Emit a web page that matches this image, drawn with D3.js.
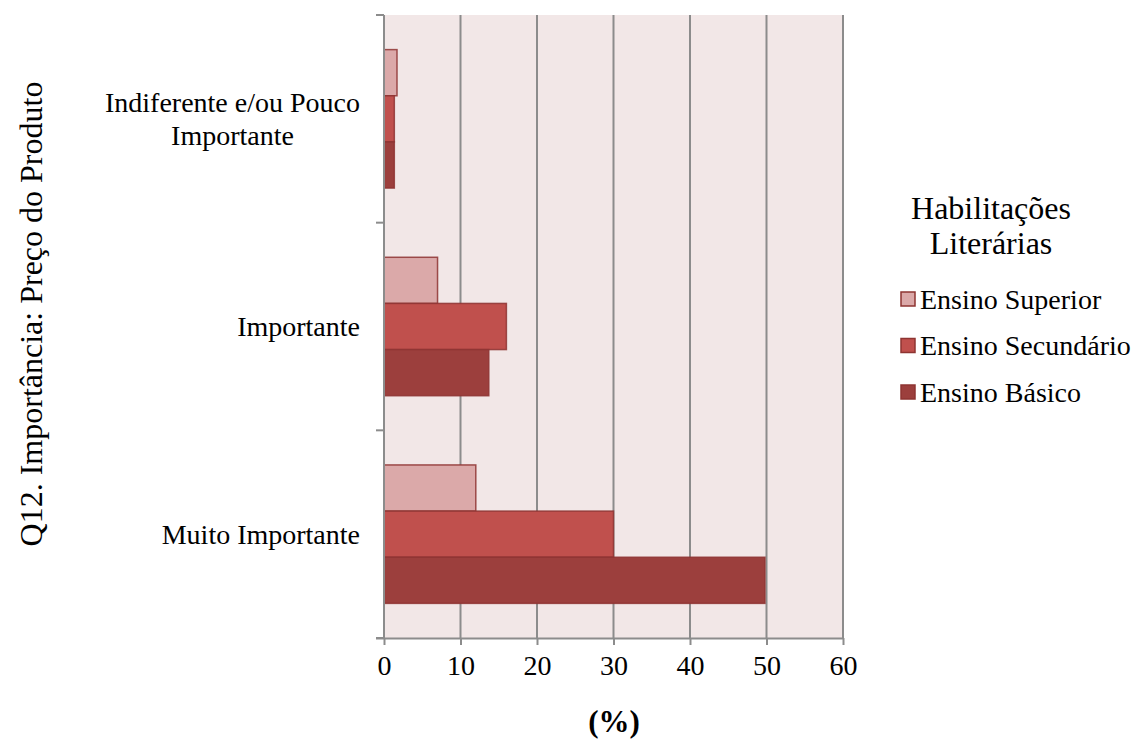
<!DOCTYPE html>
<html>
<head>
<meta charset="utf-8">
<script src="https://cdn.jsdelivr.net/npm/d3@7"></script>
<style>
  body { margin: 0; background: #ffffff; }
  svg { display: block; }
  text { font-family: "Liberation Serif", "Times New Roman", serif; fill: #000; }
</style>
</head>
<body>
<svg id="chart" width="1133" height="740"></svg>
<script>
// Categories listed top to bottom
const categories = ["Indiferente e/ou Pouco Importante", "Importante", "Muito Importante"];
const categoryLines = [["Indiferente e/ou Pouco", "Importante"], ["Importante"], ["Muito Importante"]];
// Series in drawing order within each group (top to bottom)
const seriesNames = ["Ensino Superior", "Ensino Secundário", "Ensino Básico"];
const seriesColors = ["#dba9a9", "#c0504d", "#9c3f3d"];
const superiorValues = [1.7, 7.0, 12.0];
const secundarioValues = [1.35, 16.0, 30.0];
const basicoValues = [1.35, 13.7, 49.8];
const xTicks = [0, 10, 20, 30, 40, 50, 60];

const seriesValues = [superiorValues, secundarioValues, basicoValues];

(function draw() {
  const svg = d3.select("#chart");
  const pLeft = 384, pRight = 843, pTop = 15, pBottom = 638;
  const labelSize = "28px", titleSize = "32px";

  const x = d3.scaleLinear().domain([0, 60]).range([pLeft, pRight]);
  const yGroup = d3.scaleBand().domain(categories).range([pTop, pBottom]);
  // gap width 150%: each band holds 3 bars plus 1.5 bars of gap
  const barH = yGroup.bandwidth() / 4.5;
  const ySeries = d3.scaleBand().domain(seriesNames).range([0, barH * 3]);

  // plot background
  svg.append("rect")
    .attr("x", pLeft).attr("y", pTop)
    .attr("width", pRight - pLeft).attr("height", pBottom - pTop)
    .attr("fill", "#f2e7e7");

  // vertical gridlines
  svg.append("g").selectAll("line")
    .data(xTicks.filter(d => d > 0))
    .join("line")
    .attr("x1", d => x(d)).attr("x2", d => x(d))
    .attr("y1", pTop).attr("y2", pBottom)
    .attr("stroke", "#8c8c8c").attr("stroke-width", 2);

  // bars
  const groups = svg.append("g");
  seriesNames.forEach((s, si) => {
    groups.append("g").selectAll("rect")
      .data(categories.map((c, ci) => ({ c, v: seriesValues[si][ci] })))
      .join("rect")
      .attr("x", x(0))
      .attr("y", d => yGroup(d.c) + barH * 0.75 + ySeries(s))
      .attr("width", d => x(d.v) - x(0))
      .attr("height", ySeries.bandwidth())
      .attr("fill", seriesColors[si])
      .attr("stroke", "#8e3432")
      .attr("stroke-opacity", 0.85)
      .attr("stroke-width", 1.5);
  });

  // x axis
  const xAxis = svg.append("g")
    .attr("transform", `translate(0,${pBottom})`)
    .call(d3.axisBottom(x).tickValues(xTicks).tickSize(7).tickPadding(10).tickSizeOuter(0));
  xAxis.select(".domain").attr("stroke", "#8c8c8c").attr("stroke-width", 2)
    .attr("d", `M${pLeft - 8},0.5H${pRight}`);
  xAxis.selectAll(".tick line").attr("stroke", "#8c8c8c").attr("stroke-width", 2);
  xAxis.selectAll(".tick text")
    .style("font-family", "'Liberation Serif', serif")
    .style("font-size", labelSize).attr("fill", "#000");

  // y axis line with ticks at category boundaries
  const yAxisG = svg.append("g");
  yAxisG.append("line")
    .attr("x1", pLeft).attr("x2", pLeft).attr("y1", pTop).attr("y2", pBottom)
    .attr("stroke", "#8c8c8c").attr("stroke-width", 2);
  const bounds = categories.map(c => yGroup(c)).concat([pBottom]);
  yAxisG.selectAll("line.tk").data(bounds).join("line").attr("class", "tk")
    .attr("x1", pLeft - 8).attr("x2", pLeft)
    .attr("y1", d => d).attr("y2", d => d)
    .attr("stroke", "#8c8c8c").attr("stroke-width", 2);

  // category labels, block right-aligned, lines centred on each other
  categories.forEach((c, ci) => {
    const lines = categoryLines[ci];
    const cy = yGroup(c) + yGroup.bandwidth() / 2;
    const lh = 33;
    const t = svg.append("text")
      .attr("text-anchor", "middle")
      .style("font-size", labelSize);
    lines.forEach((ln, li) => {
      t.append("tspan").text(ln)
        .attr("x", 0)
        .attr("y", cy + (li - (lines.length - 1) / 2) * lh)
        .attr("dy", "0.35em");
    });
    const w = t.node().getBBox().width;
    t.selectAll("tspan").attr("x", 360 - w / 2);
  });

  // y axis title
  svg.append("text")
    .attr("transform", `translate(31,314) rotate(-90)`)
    .attr("text-anchor", "middle").attr("dy", "0.35em")
    .style("font-size", titleSize)
    .text("Q12. Importância: Preço do Produto");

  // x axis title
  svg.append("text")
    .attr("x", 614).attr("y", 721)
    .attr("text-anchor", "middle").attr("dy", "0.35em")
    .style("font-size", "31px").style("font-weight", "bold")
    .text("(%)");

  // legend
  const legend = svg.append("g");
  legend.append("text").attr("x", 991).attr("y", 208).attr("dy", "0.35em")
    .attr("text-anchor", "middle").style("font-size", titleSize).text("Habilitações");
  legend.append("text").attr("x", 991).attr("y", 243).attr("dy", "0.35em")
    .attr("text-anchor", "middle").style("font-size", titleSize).text("Literárias");
  const legendY = d3.scalePoint().domain(seriesNames).range([299, 392]);
  seriesNames.forEach((s, si) => {
    legend.append("rect")
      .attr("x", 901).attr("y", legendY(s) - 7)
      .attr("width", 14).attr("height", 14)
      .attr("fill", seriesColors[si])
      .attr("stroke", "#8e3432").attr("stroke-width", 1.5);
    legend.append("text")
      .attr("x", 920).attr("y", legendY(s)).attr("dy", "0.35em")
      .style("font-size", labelSize).text(s);
  });
})();
</script>
</body>
</html>
